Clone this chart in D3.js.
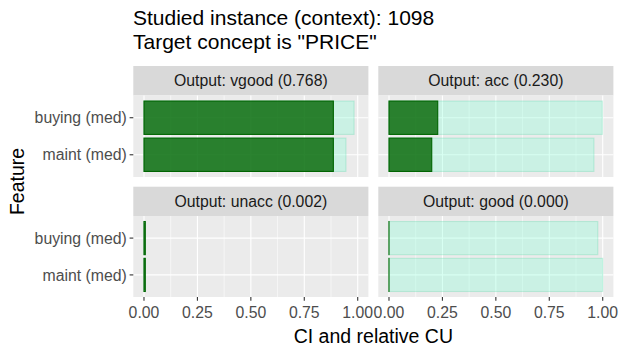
<!DOCTYPE html>
<html><head><meta charset="utf-8">
<script src="https://cdn.jsdelivr.net/npm/d3@7"></script>
<style>body{margin:0;background:#fff}svg{display:block;font-family:"Liberation Sans",Arial,sans-serif}</style>
</head><body><svg id="c" width="623" height="356"></svg>
<script>
const titleLines = ["Studied instance (context): 1098", "Target concept is \"PRICE\""];
const outputs = ["Output: vgood (0.768)", "Output: acc (0.230)", "Output: unacc (0.002)", "Output: good (0.000)"];
const features = ["buying (med)", "maint (med)"];
const ciValues = [[0.886, 0.886], [0.228, 0.200], [0.006, 0.006], [0.0, 0.0]];
const cuValues = [[0.983, 0.945], [0.998, 0.959], [0.006, 0.006], [0.977, 1.0]];
const xTicks = [0, 0.25, 0.5, 0.75, 1.0];
const xMinor = [0.125, 0.375, 0.625, 0.875];

const svg = d3.select("#c");
const cols = [[133.3, 368.4], [378.3, 613.4]];
const rows = [{strip: 66, top: 95.5, bottom: 177}, {strip: 186.7, top: 216, bottom: 297}];

svg.append("g").selectAll("text").data(titleLines).join("text")
  .attr("x", 133).attr("y", (d, i) => 25 + i * 24)
  .attr("font-size", 21).attr("fill", "#000").text(d => d);

outputs.forEach((out, k) => {
  const c = cols[k % 2], r = rows[Math.floor(k / 2)];
  const x = d3.scaleLinear().domain([-0.05, 1.05]).range(c);
  const y = d3.scalePoint().domain(features).range([r.top, r.bottom]).padding(0.6);
  const bh = y.step() * 0.9;
  const g = svg.append("g");
  g.append("rect").attr("x", c[0]).attr("y", r.strip).attr("width", c[1] - c[0]).attr("height", r.top - r.strip).attr("fill", "#D9D9D9");
  g.append("text").attr("x", (c[0] + c[1]) / 2).attr("y", (r.strip + r.top) / 2 + 5.6)
    .attr("text-anchor", "middle").attr("font-size", 15.8).attr("fill", "#1A1A1A").text(out);
  g.append("rect").attr("x", c[0]).attr("y", r.top).attr("width", c[1] - c[0]).attr("height", r.bottom - r.top).attr("fill", "#EBEBEB");
  g.append("g").selectAll("line").data(xMinor).join("line")
    .attr("x1", d => x(d)).attr("x2", d => x(d)).attr("y1", r.top).attr("y2", r.bottom)
    .attr("stroke", "#fff").attr("stroke-width", 0.55);
  g.append("g").selectAll("line").data(xTicks).join("line")
    .attr("x1", d => x(d)).attr("x2", d => x(d)).attr("y1", r.top).attr("y2", r.bottom)
    .attr("stroke", "#fff").attr("stroke-width", 1.1);
  g.append("g").selectAll("line").data(features).join("line")
    .attr("x1", c[0]).attr("x2", c[1]).attr("y1", d => y(d)).attr("y2", d => y(d))
    .attr("stroke", "#fff").attr("stroke-width", 1.1);
  g.append("g").selectAll("rect").data(features).join("rect")
    .attr("x", x(0)).attr("y", d => y(d) - bh / 2)
    .attr("width", (d, i) => Math.max(0.01, x(cuValues[k][i]) - x(0))).attr("height", bh)
    .attr("fill", "rgba(127,255,212,0.3)").attr("stroke", "rgba(90,215,170,0.3)").attr("stroke-width", 1.1);
  g.append("g").selectAll("rect").data(features).join("rect")
    .attr("x", x(0)).attr("y", d => y(d) - bh / 2)
    .attr("width", (d, i) => Math.max(0.01, x(ciValues[k][i]) - x(0))).attr("height", bh)
    .attr("fill", "rgba(0,100,0,0.8)").attr("stroke", "#006400").attr("stroke-width", 1.1);
  if (k % 2 === 0) {
    const ya = g.append("g");
    ya.selectAll("line").data(features).join("line")
      .attr("x1", c[0] - 3.7).attr("x2", c[0]).attr("y1", d => y(d)).attr("y2", d => y(d))
      .attr("stroke", "#333").attr("stroke-width", 1.1);
    ya.selectAll("text").data(features).join("text")
      .attr("x", c[0] - 6.5).attr("y", d => y(d) + 5.6).attr("text-anchor", "end")
      .attr("font-size", 15.8).attr("fill", "#4D4D4D").text(d => d);
  }
  if (k >= 2) {
    const xa = g.append("g");
    xa.selectAll("line").data(xTicks).join("line")
      .attr("x1", d => x(d)).attr("x2", d => x(d)).attr("y1", r.bottom).attr("y2", r.bottom + 3.7)
      .attr("stroke", "#333").attr("stroke-width", 1.1);
    xa.selectAll("text").data(xTicks).join("text")
      .attr("x", d => x(d)).attr("y", r.bottom + 21).attr("text-anchor", "middle")
      .attr("font-size", 15.8).attr("fill", "#4D4D4D").text(d => d3.format(".2f")(d));
  }
});

svg.append("text").attr("x", (cols[0][0] + cols[1][1]) / 2).attr("y", 343)
  .attr("text-anchor", "middle").attr("font-size", 19.5).attr("fill", "#000").text("CI and relative CU");
svg.append("text").attr("transform", "translate(24," + ((rows[0].strip + rows[1].bottom) / 2) + ") rotate(-90)")
  .attr("text-anchor", "middle").attr("font-size", 19.5).attr("fill", "#000").text("Feature");
</script></body></html>
